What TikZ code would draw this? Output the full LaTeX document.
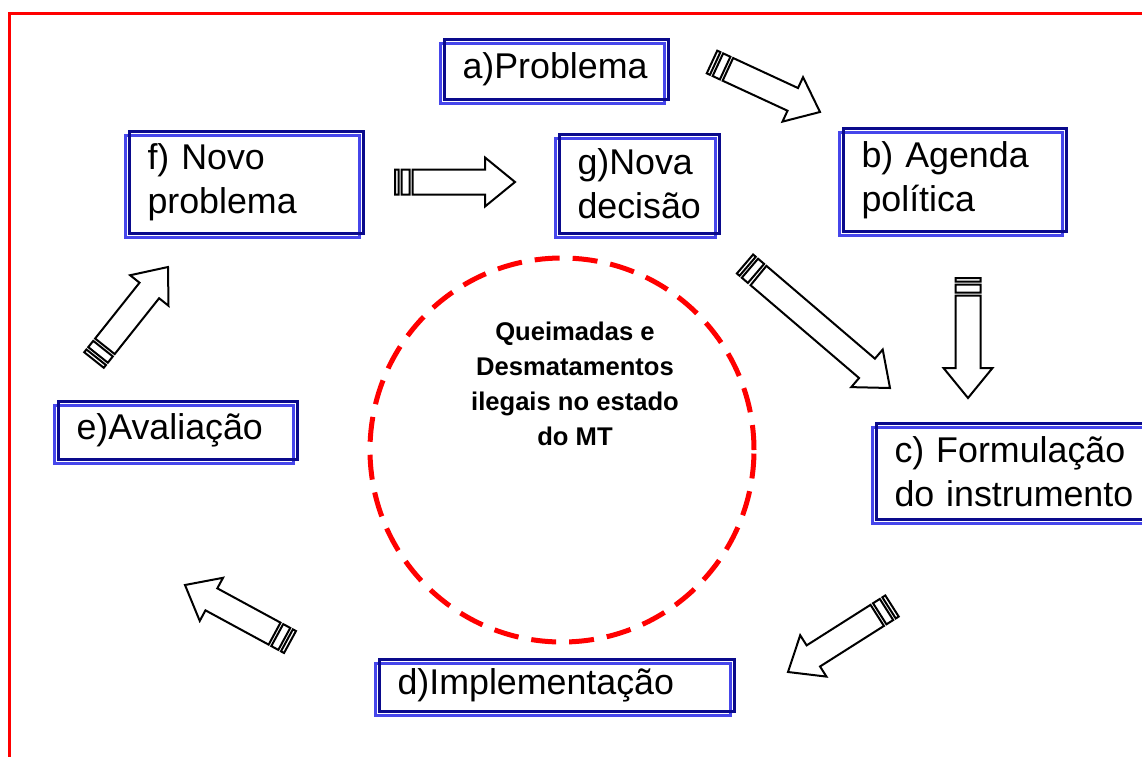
\documentclass[tikz,border=0pt]{standalone}
\usepackage{fontspec}
\setmainfont{Liberation Sans}
\usetikzlibrary{calc,shadows}
\definecolor{boxnavy}{RGB}{10,10,140}
\definecolor{boxshade}{RGB}{70,70,235}
\definecolor{framered}{RGB}{255,0,0}

\newcommand{\stripedarrow}[2]{%
  \draw[striped arrow] let \p1=($(#2)-(#1)$), \n1={atan2(\y1,\x1)}, \n2={veclen(\x1,\y1)}, \n3={\n2-23.75pt} in
    (#1) ++(\n1+90:6.25pt) -- ++(\n1:1.75pt) -- ++(\n1-90:12.5pt) -- ++(\n1+180:1.75pt) -- cycle
    (#1) ++(\n1:3.25pt) ++(\n1+90:6.25pt) -- ++(\n1:4pt) -- ++(\n1-90:12.5pt) -- ++(\n1+180:4pt) -- cycle
    (#1) ++(\n1:8.75pt) ++(\n1+90:6.25pt) -- ++(\n1:\n3) -- ++(\n1+90:6pt) -- (#2)
      -- ($(#2)+(\n1+180:15pt)+(\n1-90:12.25pt)$) -- ++(\n1+90:6pt) -- ++(\n1+180:\n3) -- cycle;
}

\begin{document}
\begin{tikzpicture}[x=0.5pt,y=-0.5pt]
\tikzstyle{stage box}=[draw=boxnavy,line width=1.5pt,anchor=north west,align=left,inner xsep=9pt,inner ysep=0pt,font=\fontsize{17.9}{22}\selectfont,copy shadow={shadow xshift=-2pt,shadow yshift=-2pt,draw=boxshade,fill=none,line width=1.3pt}]

\tikzset{
	striped arrow/.style={draw=black,line width=1pt,fill=white,line join=miter},
	theme text/.style={align=center,inner sep=0pt,font=\bfseries\fontsize{12.8}{17.5}\selectfont},
	theme ring/.style={draw=framered,line width=2.5pt,dash pattern=on 12.5pt off 6.5pt}
}

      \useasboundingbox (0,0) rectangle (1142,756);
      \draw[framered,line width=1.5pt] (9,13.5) rectangle (1200,800);

      \node[stage box,text width=94pt,minimum height=30pt] (problema) at (443,38) {a)Problema};
      \node[stage box,text width=93.5pt,minimum height=51.5pt] (agenda) at (842,127) {b) Agenda\\política};
      \node[stage box,text width=120.5pt,minimum height=48pt] (formulacao) at (875,422) {c) Formulação\\do instrumento};
      \node[stage box,text width=159.5pt,minimum height=26pt] (implementacao) at (378,658) {d)Implementação};
      \node[stage box,text width=101.5pt,minimum height=29pt] (avaliacao) at (57,400) {e)Avaliação};
      \node[stage box,text width=99pt,minimum height=51pt] (novoproblema) at (128,130) {f) Novo\\problema};
      \node[stage box,text width=62pt,minimum height=49.5pt] (novadecisao) at (558,133) {g)Nova\\decisão};

      \draw[theme ring] (562,450) circle[radius=96pt];
      \node[theme text] (tema) at (575,384) {Queimadas e\\Desmatamentos\\ilegais no estado\\do MT};

      \coordinate (ab tail) at (712,62);  \coordinate (ab tip) at (820,112);
      \coordinate (bc tail) at (968,278); \coordinate (bc tip) at (968,398);
      \coordinate (gc tail) at (745,264); \coordinate (gc tip) at (890,388);
      \coordinate (cd tail) at (892,606); \coordinate (cd tip) at (788,672);
      \coordinate (de tail) at (290,642); \coordinate (de tip) at (185,585);
      \coordinate (ef tail) at (94,360);  \coordinate (ef tip) at (168,267);
      \coordinate (fg tail) at (395,182); \coordinate (fg tip) at (515,182);

      \stripedarrow{ab tail}{ab tip}
      \stripedarrow{bc tail}{bc tip}
      \stripedarrow{gc tail}{gc tip}
      \stripedarrow{cd tail}{cd tip}
      \stripedarrow{de tail}{de tip}
      \stripedarrow{ef tail}{ef tip}
      \stripedarrow{fg tail}{fg tip}
\end{tikzpicture}
\end{document}
